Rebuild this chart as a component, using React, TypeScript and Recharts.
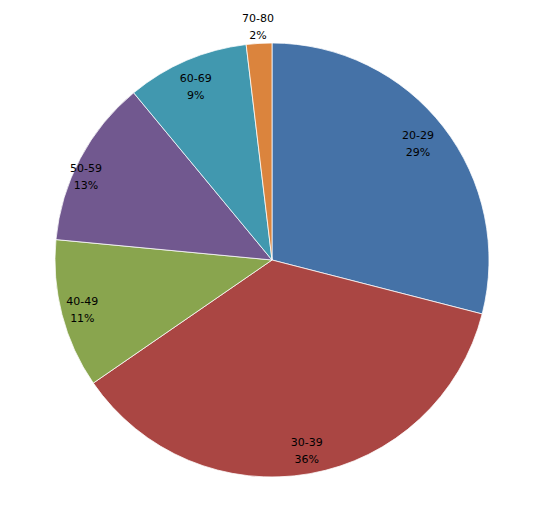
import { Cell, Pie, PieChart } from "recharts";

const AGE_GROUPS = ["20-29", "30-39", "40-49", "50-59", "60-69", "70-80"];
const SHARES = [29, 36.4, 11.1, 12.5, 9.1, 1.9];
const COLORS = ["#4572A7", "#AA4643", "#89A54E", "#71588F", "#4198AF", "#DB843D"];
// label distance from centre (fraction of radius) and angle nudge, mimicking Excel's best-fit placement
const LABEL_RADIUS = [0.862, 0.889, 0.903, 0.94, 0.876, 1.078];
const LABEL_TURN = [0.9, 0.3, 0, 3.6, 0.4, 0];

const data = AGE_GROUPS.map((name, i) => ({ name, value: SHARES[i] }));

const RAD = Math.PI / 180;

function renderLabel(props: any) {
  const { cx, cy, midAngle, outerRadius, name, value, index } = props;
  const r = outerRadius * LABEL_RADIUS[index];
  const a = midAngle + LABEL_TURN[index];
  const x = cx + r * Math.cos(-a * RAD);
  const y = cy + r * Math.sin(-a * RAD);
  return (
    <text x={x} y={y} textAnchor="middle" fill="#000" fontSize={11} fontFamily="DejaVu Sans">
      <tspan x={x} dy={-4}>{name}</tspan>
      <tspan x={x} dy={17}>{`${Math.round(value)}%`}</tspan>
    </text>
  );
}

export default function App() {
  return (
    <div style={{ position: "absolute", left: 0, top: 0, background: "#fff" }}>
      <PieChart width={553} height={513} margin={{ top: 0, right: 0, bottom: 0, left: 0 }}>
        <Pie
          data={data}
          dataKey="value"
          nameKey="name"
          cx={272}
          cy={260}
          outerRadius={217}
          startAngle={90}
          endAngle={-270}
          stroke="#fff"
          strokeWidth={0.75}
          label={renderLabel}
          labelLine={false}
          isAnimationActive={false}
        >
          {data.map((d, i) => (
            <Cell key={d.name} fill={COLORS[i]} />
          ))}
        </Pie>
      </PieChart>
    </div>
  );
}
